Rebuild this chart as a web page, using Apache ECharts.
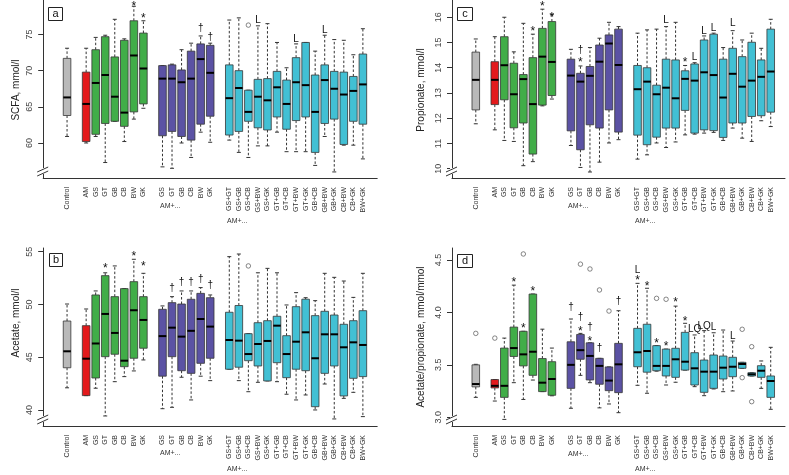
<!DOCTYPE html>
<html><head><meta charset="utf-8">
<script src="https://cdn.jsdelivr.net/npm/echarts@6/dist/echarts.min.js"></script>
<style>html,body{margin:0;padding:0;background:#fff}#c{width:789px;height:475px}</style>
</head><body><div id="c"></div>
<script>
// ---------------- DATA ----------------
const groupLabels = ['Control','AM','GS','GT','GB','CB','BW','GK','GS','GT','GB','CB','BW','GK',
  'GS+GT','GS+GB','GS+CB','GS+BW','GS+GK','GT+GB','GT+CB','GT+BW','GT+GK','GB+CB','GB+BW','GB+GK','CB+BW','CB+GK','BW+GK'];
const groupKind = ['control','am','fibre','fibre','fibre','fibre','fibre','fibre',
  'amFibre','amFibre','amFibre','amFibre','amFibre','amFibre',
  'amPair','amPair','amPair','amPair','amPair','amPair','amPair','amPair','amPair','amPair','amPair','amPair','amPair','amPair','amPair'];

// [min, q1, median, q3, max]
const scfaStats = [
  [60.9,63.8,66.3,71.7,73.1],[60.0,60.2,65.4,69.8,73.1],[60.9,61.2,68.3,72.9,74.6],[57.3,62.7,69.4,74.7,74.9],
  [63.0,63.0,66.4,71.9,77.1],[60.2,62.3,64.2,74.2,74.4],[63.3,64.3,72.1,76.9,78.9],[64.8,65.4,70.3,75.2,76.9],
  [56.7,61.0,68.9,70.7,70.7],[56.5,61.6,68.9,70.8,70.9],[60.0,60.9,68.4,70.1,72.9],[58.0,60.4,68.9,72.7,73.8],
  [61.5,62.6,71.6,73.7,74.8],[60.1,63.7,69.7,73.5,73.8],
  [60.4,61.1,66.2,70.8,77.0],[58.7,61.6,67.6,70.0,77.3],[58.0,63.0,64.3,67.3,67.3],[59.6,62.1,66.4,68.8,76.2],
  [59.6,61.8,65.9,68.9,76.5],[61.5,63.6,67.7,69.9,73.9],[58.8,61.9,65.4,68.7,70.4],[58.8,63.1,68.4,71.8,73.7],
  [58.8,63.6,68.0,73.9,73.9],[56.9,58.7,64.3,69.4,72.7],[60.9,62.7,68.7,70.8,74.9],[56.0,63.3,67.5,69.9,74.3],
  [59.7,59.8,66.7,69.8,74.2],[59.7,63.0,67.2,69.2,72.2],[57.8,62.6,68.1,72.3,75.8]
];
const scfaOutliers = [[16,76.3]];
const scfaMarks = [[6,79.3,'*'],[7,77.6,'*'],[12,75.9,'†'],[13,74.6,'†'],[17,77.0,'L'],[21,74.4,'L'],[24,75.6,'L']];

const acetateStats = [
  [42.1,44.0,45.56,48.43,50.04],[41.36,41.36,44.86,47.99,49.57],[42.06,43.03,46.3,50.9,51.28],[39.43,45.05,49.1,52.73,53.0],
  [42.68,45.28,47.3,50.74,53.65],[43.16,44.1,44.67,51.5,51.5],[43.7,44.9,49.45,52.16,54.28],[44.74,45.85,48.53,50.74,52.95],
  [40.12,43.2,47.0,49.54,49.86],[40.25,45.05,47.8,50.17,50.74],[43.1,43.72,46.95,50.04,51.28],[40.95,43.47,47.5,50.49,51.28],
  [43.2,44.42,48.62,51.05,51.6],[42.78,44.9,47.9,50.64,50.9],
  [43.86,43.86,46.63,49.26,54.53],[42.78,44.05,46.57,49.9,54.78],[41.73,44.67,45.3,47.23,47.23],[42.62,44.17,46.25,48.27,53.0],
  [42.75,42.75,46.54,48.46,53.42],[42.68,44.48,47.99,48.88,53.0],[41.49,43.06,45.3,47.04,49.95],[40.95,43.86,46.47,49.79,51.12],
  [41.42,43.72,47.36,50.5,50.64],[40.0,40.31,44.9,48.94,50.36],[42.46,43.47,47.17,49.35,52.95],[39.15,44.17,47.17,49.0,52.57],
  [41.1,41.33,45.94,48.12,52.22],[41.67,43.0,46.41,48.46,50.67],[39.37,43.16,46.16,49.41,52.95]
];
const acetateOutliers = [[16,53.65]];
const acetateMarks = [[3,53.67,'*'],[6,54.78,'*'],[7,53.9,'*'],[9,51.56,'†'],[10,52.13,'†'],[11,52.13,'†'],[12,52.41,'†'],[13,51.85,'†']];

const propionateStats = [
  [11.78,12.33,13.52,14.62,15.14],[11.54,12.54,13.52,14.24,15.23],[11.12,12.73,14.1,15.23,16.0],[11.08,11.62,12.95,14.18,14.63],
  [10.12,11.81,13.55,13.73,15.76],[10.28,10.58,12.56,14.4,15.33],[12.49,12.52,14.44,15.56,16.32],[12.76,12.9,14.23,15.83,16.12],
  [10.92,11.5,13.69,14.34,14.73],[10.05,10.75,13.45,13.78,14.07],[9.87,11.74,13.68,14.05,14.8],[10.26,11.61,14.24,14.9,15.17],
  [11.02,12.33,14.96,15.3,15.8],[11.15,11.45,14.11,15.53,15.63],
  [10.38,11.33,13.15,14.09,15.37],[10.55,10.95,13.45,14.0,15.5],[11.02,11.25,12.95,13.31,15.53],[10.84,11.61,13.21,14.34,15.63],
  [11.06,11.61,12.79,14.31,15.8],[11.34,12.31,13.56,13.88,14.09],[11.37,11.41,13.49,14.15,14.2],[11.41,11.54,13.82,15.1,15.26],
  [11.44,11.51,13.71,15.33,15.37],[11.12,11.24,12.82,14.34,14.8],[11.61,11.81,13.76,14.77,15.47],[11.21,11.81,13.25,14.44,15.1],
  [11.08,12.07,13.49,15.01,15.37],[11.9,12.1,13.64,14.31,14.77],[11.67,12.24,13.85,15.53,15.92]
];
const propionateOutliers = [];
const propionateMarks = [[5,15.53,'*'],[6,16.53,'*'],[7,16.09,'*'],[9,14.71,'†'],[9,14.31,'*'],[17,15.87,'L'],[19,14.31,'*'],
  [20,14.42,'L'],[21,15.46,'L'],[22,15.56,'L'],[24,15.76,'L']];

const ratioStats = [
  [3.19,3.29,3.317,3.50,3.505],[3.155,3.28,3.30,3.36,3.36],[2.98,3.19,3.30,3.66,3.755],[3.33,3.58,3.66,3.86,4.26],
  [3.17,3.49,3.60,3.82,3.82],[3.355,3.40,3.625,4.175,4.175],[3.245,3.245,3.33,3.56,3.84],[3.205,3.21,3.365,3.53,3.66],
  [3.086,3.276,3.50,3.72,3.937],[3.40,3.553,3.64,3.79,3.80],[3.33,3.356,3.585,3.71,3.71],[3.09,3.315,3.49,3.562,3.562],
  [3.127,3.254,3.35,3.48,3.48],[3.044,3.235,3.505,3.705,4.016],
  [3.305,3.482,3.62,3.848,4.277],[3.229,3.43,3.632,3.887,4.23],[3.44,3.444,3.49,3.683,3.683],[3.308,3.394,3.49,3.65,3.65],
  [3.334,3.381,3.553,3.658,4.06],[3.45,3.45,3.53,3.81,3.896],[3.292,3.308,3.467,3.616,3.785],[3.206,3.238,3.435,3.546,3.826],
  [3.27,3.276,3.435,3.594,3.806],[3.244,3.365,3.473,3.584,3.832],[3.251,3.387,3.482,3.572,3.727],[3.467,3.467,3.508,3.524,3.524],
  [3.394,3.394,3.41,3.425,3.425],[3.276,3.381,3.444,3.492,3.537],[3.076,3.19,3.346,3.394,3.667]
];
const ratioOutliers = [[0,3.80],[1,3.755],[4,4.557],[9,4.46],[10,4.414],[11,4.214],[12,4.013],[16,4.134],[17,4.125],
  [25,3.839],[25,3.378],[26,3.673],[26,3.149]];
const ratioMarks = [[3,4.309,'*'],[4,3.870,'*'],[5,4.223,'*'],[8,4.049,'†'],[9,3.953,'†'],[9,3.848,'*'],[10,3.854,'†'],[10,3.753,'*'],
  [11,3.658,'†'],[13,4.102,'†'],[14,4.398,'L'],[14,4.331,'*'],[15,4.277,'*'],[16,3.730,'*'],[17,3.705,'*'],[18,4.118,'*'],
  [19,3.944,'*'],[20,3.839,'LQ'],[21,3.864,'LQ'],[22,3.858,'L'],[24,3.775,'L']];

const scfaTicks = [60,65,70,75];
const acetateTicks = [40,45,50,55];
const propionateTicks = [10,11,12,13,14,15,16];
const ratioTicks = [3.0,3.5,4.0,4.5];

// ---------------- LAYOUT / STYLE ----------------
const kindColor = {control:'#b9b9b9', am:'#e31a1c', fibre:'#41ad48', amFibre:'#5b52a4', amPair:'#42c0d4'};
// slots: 2 leading blanks, a blank after Control, after the fibre group, after the AM+fibre group, 1 trailing blank
const slots = ['',''];
const slotOf = [];
groupLabels.forEach((lab, i) => {
  slotOf.push(slots.length);
  slots.push(lab);
  if (i === 0 || i === 7 || i === 13) slots.push('');
});
slots.push('');

const panels = [
  {stats: scfaStats, outl: scfaOutliers, marks: scfaMarks, ticks: scfaTicks, min: 55.16, max: 79.77,
   grid: {left: 43.2, top: 0, width: 334, height: 178}, fmt: v => String(v)},
  {stats: acetateStats, outl: acetateOutliers, marks: acetateMarks, ticks: acetateTicks, min: 38.48, max: 55.35,
   grid: {left: 43.2, top: 248, width: 334, height: 178}, fmt: v => String(v)},
  {stats: propionateStats, outl: propionateOutliers, marks: propionateMarks, ticks: propionateTicks, min: 9.632, max: 16.684,
   grid: {left: 452, top: 0, width: 333, height: 178}, fmt: v => String(v)},
  {stats: ratioStats, outl: ratioOutliers, marks: ratioMarks, ticks: ratioTicks, min: 2.917, max: 4.614,
   grid: {left: 452, top: 248, width: 333, height: 178}, fmt: v => v.toFixed(1)}
];

const FONT = '"Liberation Sans", Arial, sans-serif';

function boxRender(params, api) {
  const x = api.value(0);
  const yMin = api.coord([x, api.value(1)])[1];
  const yQ1 = api.coord([x, api.value(2)])[1];
  const yMed = api.coord([x, api.value(3)])[1];
  const yQ3 = api.coord([x, api.value(4)])[1];
  const yMax = api.coord([x, api.value(5)])[1];
  const cx = api.coord([x, api.value(3)])[0];
  const col = kindColor[groupKind[params.dataIndex]];
  const bw = 7.6, hw = bw / 2, cw = 2;
  const dash = {stroke: '#333', lineWidth: 1, lineDash: [2.5, 2]};
  const solid = {stroke: '#333', lineWidth: 1};
  return {type: 'group', children: [
    {type: 'line', shape: {x1: cx, y1: yQ3, x2: cx, y2: yMax}, style: dash},
    {type: 'line', shape: {x1: cx, y1: yQ1, x2: cx, y2: yMin}, style: dash},
    {type: 'line', shape: {x1: cx - cw, y1: yMax, x2: cx + cw, y2: yMax}, style: solid},
    {type: 'line', shape: {x1: cx - cw, y1: yMin, x2: cx + cw, y2: yMin}, style: solid},
    {type: 'rect', shape: {x: cx - hw, y: yQ3, width: bw, height: yQ1 - yQ3},
     style: {fill: col, stroke: '#363636', lineWidth: 0.8}},
    {type: 'line', shape: {x1: cx - hw, y1: yMed, x2: cx + hw, y2: yMed}, style: {stroke: '#000', lineWidth: 2}}
  ]};
}

function markRenderFor(marks) {
  return function (params, api) {
    const p = api.coord([api.value(0), api.value(1)]);
    const t = marks[params.dataIndex][2];
    const star = t === '*';
    return {type: 'text', x: p[0], y: p[1] + (star ? 3 : 0),
      style: {text: t, fill: '#111', font: (star ? '12px ' : '10px ') + FONT, align: 'center', verticalAlign: 'middle'}};
  };
}

const grids = [], xAxes = [], yAxes = [], series = [];
panels.forEach((pn, k) => {
  grids.push(pn.grid);
  xAxes.push({type: 'category', gridIndex: k, data: slots, boundaryGap: true,
    axisLine: {lineStyle: {color: '#333', width: 1}},
    axisTick: {alignWithLabel: true, length: 4, interval: (i, v) => v !== '', lineStyle: {color: '#333'}},
    axisLabel: {interval: 0, rotate: 90, fontSize: 7, color: '#333', margin: 9, fontFamily: FONT},
    splitLine: {show: false}});
  yAxes.push({type: 'value', gridIndex: k, min: pn.min, max: pn.max, scale: true,
    axisLine: {show: true, lineStyle: {color: '#333', width: 1}},
    axisTick: {show: true, length: 5, customValues: pn.ticks, lineStyle: {color: '#333'}},
    axisLabel: {customValues: pn.ticks, rotate: 90, fontSize: 9, color: '#444', margin: 9, fontFamily: FONT, formatter: pn.fmt},
    splitLine: {show: false}});
  series.push({type: 'custom', xAxisIndex: k, yAxisIndex: k, renderItem: boxRender,
    encode: {x: 0, y: [1, 2, 3, 4, 5]},
    data: pn.stats.map((s, i) => [slotOf[i]].concat(s)), z: 2});
  series.push({type: 'scatter', xAxisIndex: k, yAxisIndex: k, symbol: 'circle', symbolSize: 4.5,
    itemStyle: {color: '#fff', borderColor: '#444', borderWidth: 0.8},
    data: pn.outl.map(o => [slotOf[o[0]], o[1]]), z: 3, silent: true});
  series.push({type: 'custom', xAxisIndex: k, yAxisIndex: k, renderItem: markRenderFor(pn.marks),
    encode: {x: 0, y: 1}, data: pn.marks.map(m => [slotOf[m[0]], m[1]]), z: 4});
});

// decorations
const graphic = [];
function brk(ax, by) {
  graphic.push({type: 'rect', shape: {x: ax - 2, y: by - 10, width: 4, height: 6}, style: {fill: '#fff'}, z: 100});
  graphic.push({type: 'line', shape: {x1: ax - 6, y1: by - 6, x2: ax + 5, y2: by - 11}, style: {stroke: '#333', lineWidth: 1}, z: 101});
  graphic.push({type: 'line', shape: {x1: ax - 6, y1: by - 2, x2: ax + 5, y2: by - 7}, style: {stroke: '#333', lineWidth: 1}, z: 101});
}
brk(43.2, 178); brk(43.2, 426); brk(452, 178); brk(452, 426);
function letter(x, y, w, h, t) {
  graphic.push({type: 'rect', shape: {x: x, y: y, width: w, height: h}, style: {fill: '#fff', stroke: '#222', lineWidth: 1}, z: 100});
  graphic.push({type: 'text', x: x + w / 2, y: y + h / 2, style: {text: t, font: '11px ' + FONT, fill: '#111', align: 'center', verticalAlign: 'middle'}, z: 101});
}
letter(48.5, 7.5, 14, 13, 'a'); letter(49.5, 253.5, 13, 13, 'b'); letter(457.5, 7.5, 15, 13, 'c'); letter(457.5, 254.5, 15, 13, 'd');
function ytitle(x, y, t) {
  graphic.push({type: 'text', x: x, y: y, rotation: Math.PI / 2,
    style: {text: t, font: '10px ' + FONT, fill: '#222', align: 'center', verticalAlign: 'middle'}, z: 100});
}
ytitle(16, 90, 'SCFA, mmol/l'); ytitle(16, 323, 'Acetate, mmol/l');
ytitle(421, 90, 'Propionate, mmol/l'); ytitle(421, 337, 'Acetate/propionate, mmol/mmol');
function amplus(x, y) {
  graphic.push({type: 'text', x: x, y: y, style: {text: 'AM+...', font: '7px ' + FONT, fill: '#333', align: 'left', verticalAlign: 'middle'}, z: 100});
}
amplus(160, 206); amplus(227, 221); amplus(568, 206); amplus(635, 221);
amplus(160, 453); amplus(227, 469); amplus(568, 454); amplus(635, 469);

const chart = echarts.init(document.getElementById('c'), null, {renderer: 'canvas'});
chart.setOption({animation: false, backgroundColor: '#fff', grid: grids, xAxis: xAxes, yAxis: yAxes, series: series, graphic: graphic});
</script></body></html>
